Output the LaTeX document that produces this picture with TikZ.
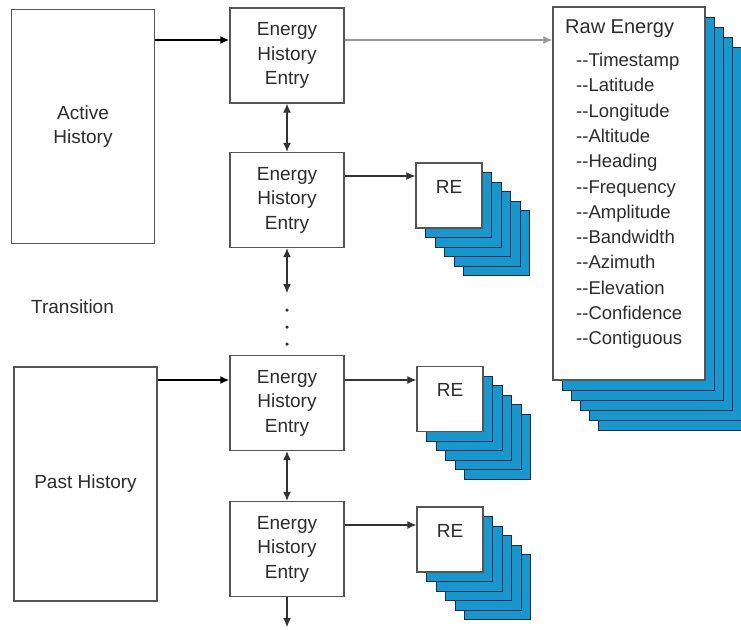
\documentclass[tikz,border=0pt]{standalone}
\usepackage{fontspec}
\setmainfont{Liberation Sans}
\usetikzlibrary{arrows.meta}
\pgfdeclarelayer{bg}
\pgfsetlayers{bg,main}
\definecolor{stackblue}{RGB}{22,152,206}
\definecolor{stackedge}{RGB}{25,45,75}
\definecolor{boxedge}{RGB}{85,85,85}
\definecolor{ink}{RGB}{45,45,45}

\begin{document}
\begin{tikzpicture}[x=1pt, y=-1pt, every node/.style={text=ink},
        box/.style={draw=boxedge, line width=1.4pt, fill=white, inner sep=0pt, align=center,
                font=\fontsize{19}{24.5}\selectfont},
        entry/.style={box, minimum width=114pt, minimum height=95pt},
        histbox/.style={box, minimum width=143pt, minimum height=234pt},
        refront/.style={draw=boxedge, line width=1.4pt, fill=white, minimum width=66pt,
                minimum height=65pt, inner sep=8pt, text height=22pt, text depth=27pt,
                font=\fontsize{19}{24}\selectfont},
        relayer/.style={draw=stackedge, line width=1pt, fill=stackblue, minimum width=66pt,
                minimum height=65pt, inner sep=0pt},
        rawlayer/.style={relayer, minimum width=152pt, minimum height=373pt},
        link/.style={draw=black!80, line width=1.1pt, -{Latex[length=9pt,width=8pt]}},
        bilink/.style={link, {Latex[length=9pt,width=8pt]}-{Latex[length=9pt,width=8pt]}},
        dot/.style={circle, fill=black!80, inner sep=0pt, minimum size=3.5pt}]
        \useasboundingbox (0,0) rectangle (741,629);

        % history blocks
        \node (active) [histbox] at (83, 126.5) {Active\\History};
        \node (past) [histbox] at (85.5, 484) {Past History};
        \node (trans) [font=\fontsize{19}{24}\selectfont] at (72.5, 307) {Transition};

        % entries
        \node (e1) [entry] at (287, 55.5) {Energy\\History\\Entry};
        \node (e2) [entry] at (287, 200) {Energy\\History\\Entry};
        \node (e3) [entry] at (287, 403) {Energy\\History\\Entry};
        \node (e4) [entry] at (287, 549) {Energy\\History\\Entry};
        \foreach \y [count=\i] in {310, 327, 344}
                \node (dot\i) [dot] at (287, \y) {};
        \coordinate (gap) at (287, 293);
        \coordinate (tail) at (287, 627);

        % raw energy records
        \node (re1) [refront] at (449, 195.5) {RE};
        \node (re2) [refront] at (450, 399) {RE};
        \node (re3) [refront] at (450, 539.5) {RE};
        \node (raw) [draw=boxedge, line width=1.4pt, fill=white, minimum width=152pt,
                minimum height=373pt] at (629, 193.5) {};
        \node (rawtitle) [anchor=base west, inner sep=0pt, font=\fontsize{20}{24}\selectfont]
                at (565, 33) {Raw Energy};
        \foreach \f [count=\i from 0] in {Timestamp, Latitude, Longitude, Altitude, Heading,
                        Frequency, Amplitude, Bandwidth, Azimuth, Elevation, Confidence, Contiguous}
                \node (item\i) [anchor=base west, inner sep=0pt, font=\fontsize{18.5}{22}\selectfont]
                        at (576, 66.5+25.3*\i) {-{}-\f};

        \begin{pgfonlayer}{bg}
                \foreach \s in {re1, re2, re3}
                        \foreach \k in {5,4,...,1}
                                \node (\s-\k) [relayer] at ([shift={(\k*9.5, \k*9.5)}]\s.center) {};
                \foreach \k in {5,4,...,1}
                        \node (raw-\k) [rawlayer] at ([shift={(\k*9, \k*10)}]raw.center) {};
        \end{pgfonlayer}

        % connectors
        \coordinate (in1) at ([yshift=15.5pt]e1.west);
        \coordinate (out1) at ([yshift=15.5pt]e1.east);
        \coordinate (out2) at ([yshift=24pt]e2.east);
        \coordinate (in3) at ([yshift=23pt]e3.west);
        \coordinate (out3) at ([yshift=23pt]e3.east);
        \coordinate (out4) at ([yshift=24pt]e4.east);
        \draw [link, line width=1.6pt, draw=black] (in1 -| active.east) -- (in1);
        \draw [link, draw=gray!80] (out1) -- (out1 -| raw.west);
        \draw [link] (out2) -- (out2 -| re1.west);
        \draw [link, line width=1.6pt, draw=black] (in3 -| past.east) -- (in3);
        \draw [link] (out3) -- (out3 -| re2.west);
        \draw [link] (out4) -- (out4 -| re3.west);
        \draw [bilink] (e1) -- (e2);
        \draw [bilink] (e2) -- (gap);
        \draw [bilink] (e3) -- (e4);
        \draw [link] (e4) -- (tail);
\end{tikzpicture}
\end{document}
